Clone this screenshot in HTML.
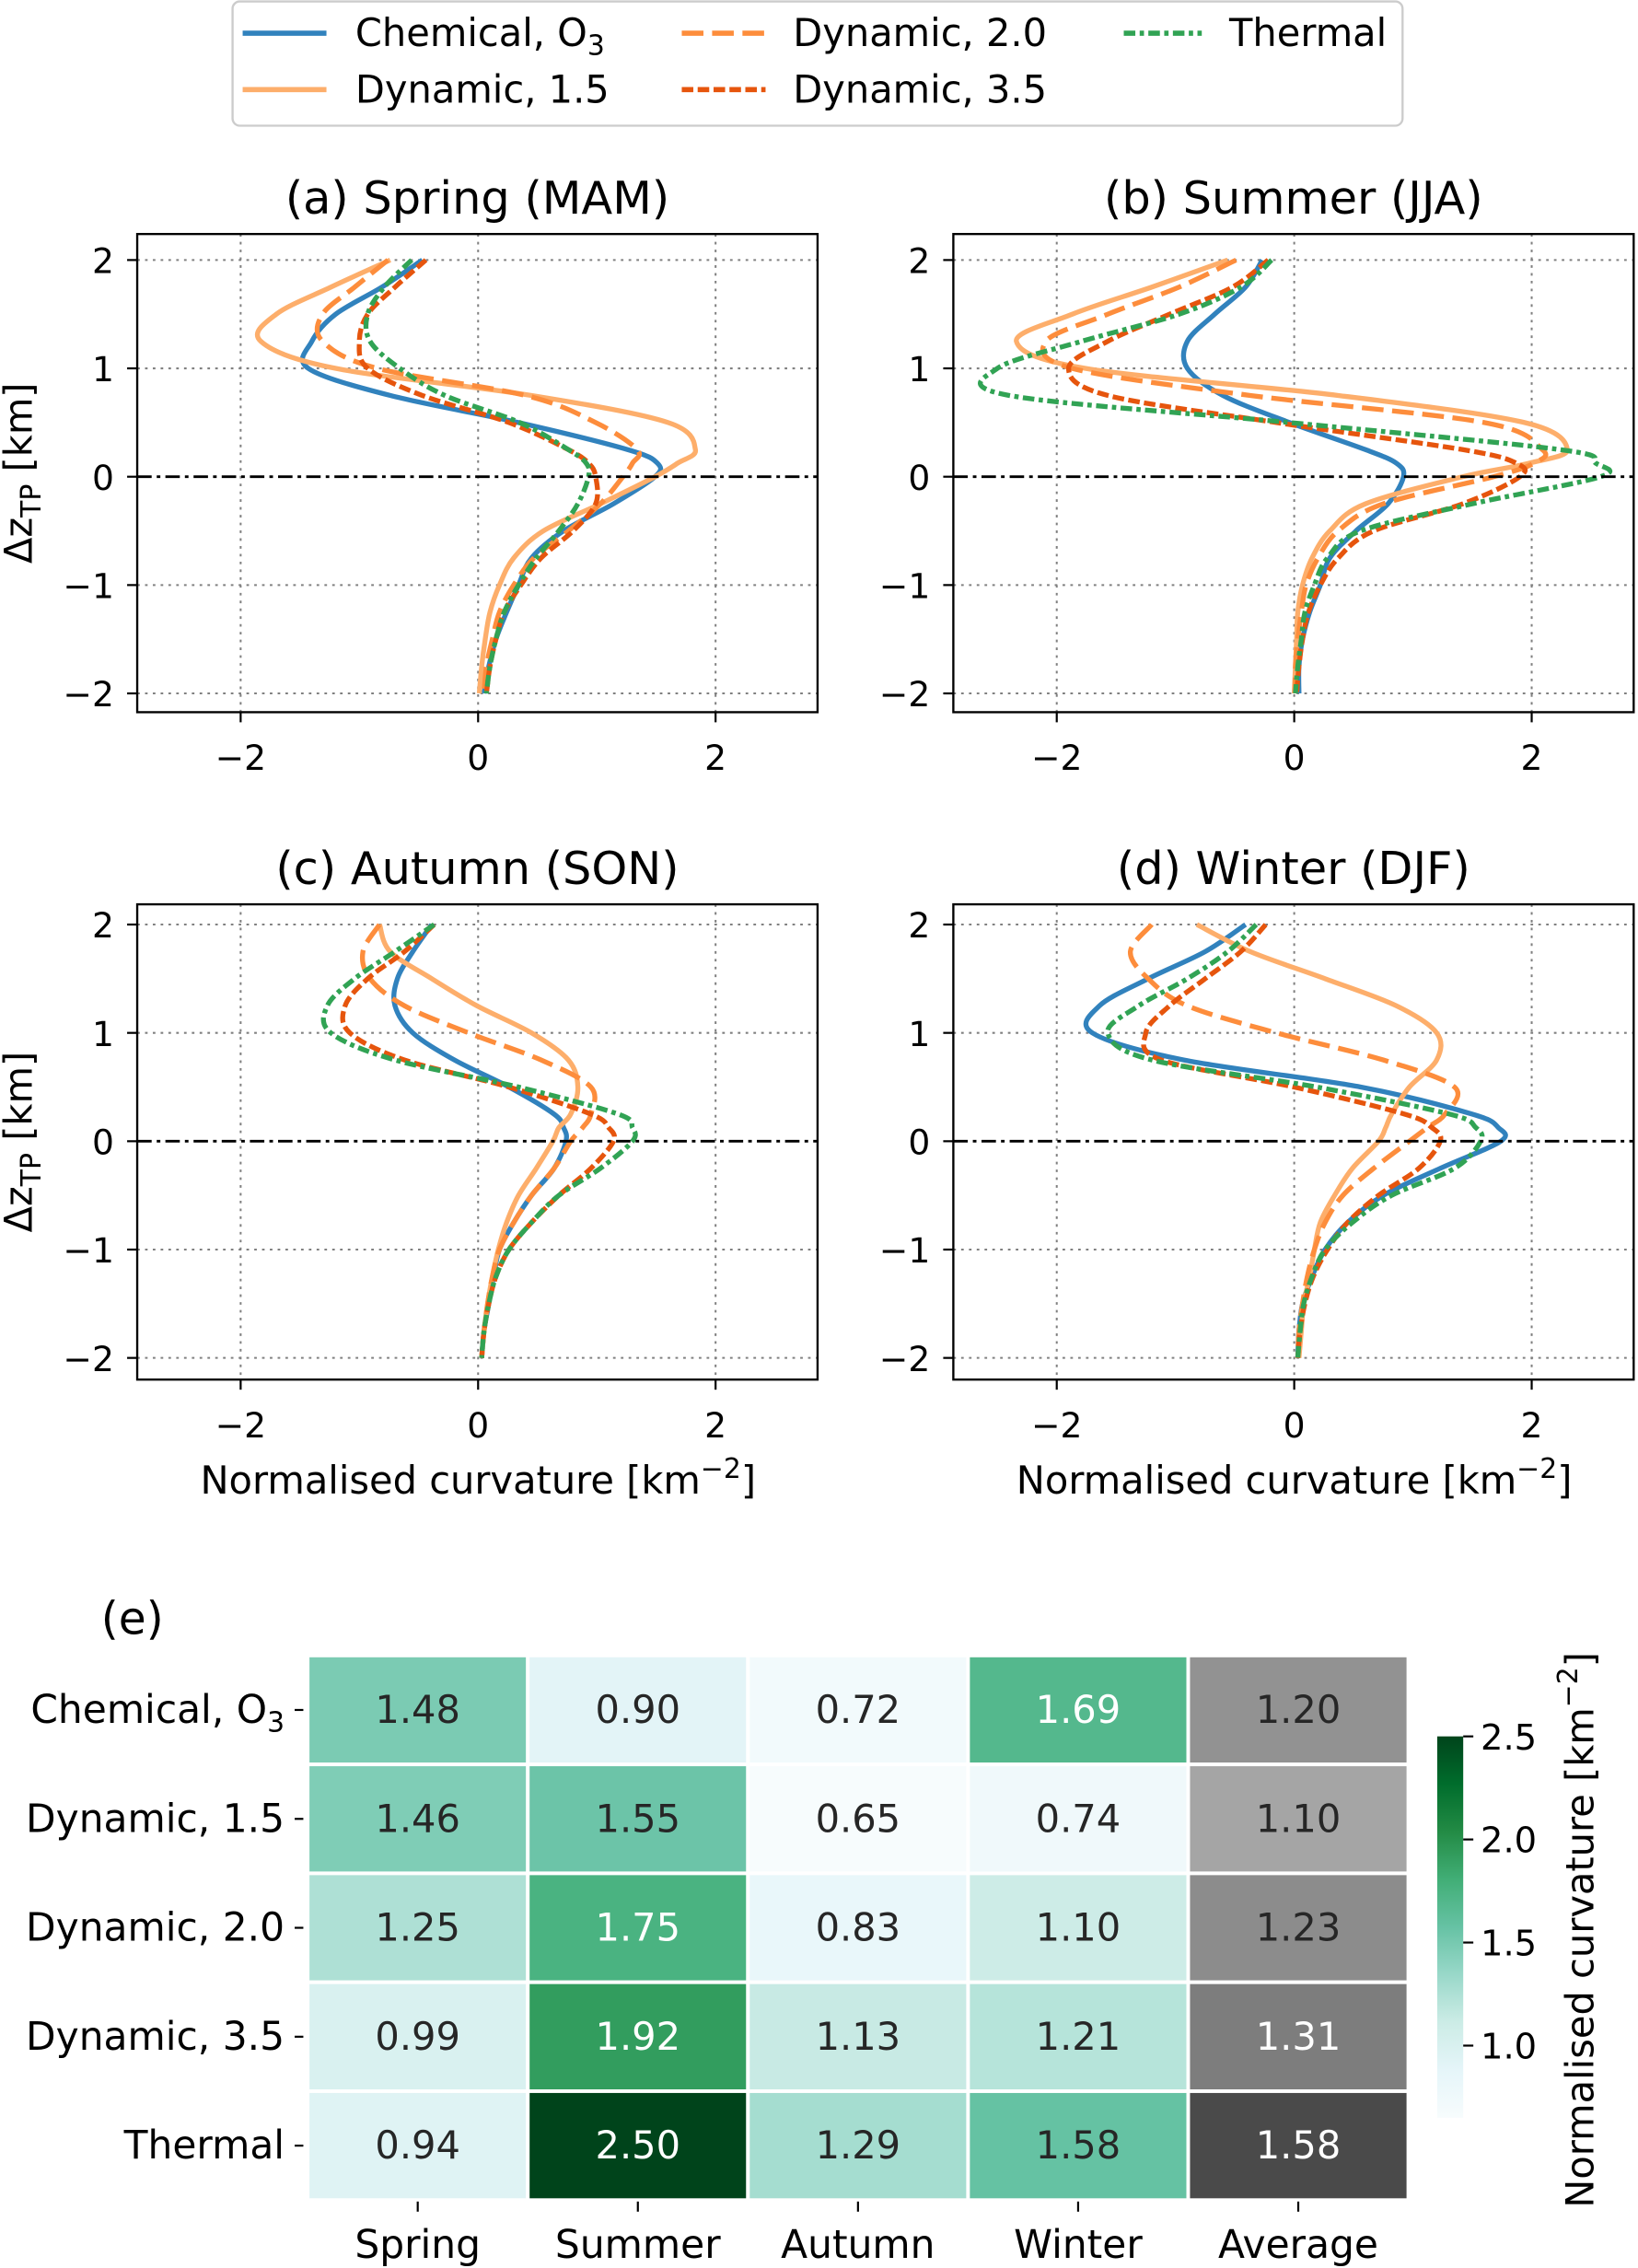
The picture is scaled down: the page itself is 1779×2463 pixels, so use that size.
<!DOCTYPE html>
<html><head><meta charset="utf-8">
<style>
html,body{margin:0;padding:0;background:#fff;}
svg{display:block;font-family:"DejaVu Sans","Liberation Sans",sans-serif;}
</style></head>
<body>
<svg id="fig" xmlns="http://www.w3.org/2000/svg" width="1779" height="2463" viewBox="0 0 1134 1570">
<g id="legend">
  <rect x="161" y="1" width="810" height="86" rx="5" fill="#fff" stroke="#cccccc" stroke-width="1.5"/>
  <g>
    <line x1="168" y1="23" x2="226" y2="23" stroke="#3182bd" stroke-width="3.6"/>
    <text x="246" y="32" font-size="26.5">Chemical, O<tspan font-size="19" dy="6">3</tspan></text>
  </g>
  <g>
    <line x1="168" y1="62" x2="226" y2="62" stroke="#fdae6b" stroke-width="3.6"/>
    <text x="246" y="71" font-size="26.5">Dynamic, 1.5</text>
  </g>
  <g>
    <line x1="472" y1="23" x2="530" y2="23" stroke="#fd8d3c" stroke-width="3.6" stroke-dasharray="15,6"/>
    <text x="549" y="32" font-size="26.5">Dynamic, 2.0</text>
  </g>
  <g>
    <line x1="472" y1="62" x2="530" y2="62" stroke="#e6550d" stroke-width="3.6" stroke-dasharray="8,3"/>
    <text x="549" y="71" font-size="26.5">Dynamic, 3.5</text>
  </g>
  <g>
    <line x1="778" y1="23" x2="832" y2="23" stroke="#31a354" stroke-width="3.6" stroke-dasharray="8,3,3,3"/>
    <text x="851" y="32" font-size="26.5">Thermal</text>
  </g>
</g>
<g id="panels"></g>
<g id="heatmap"></g>
</svg>
<script>
// ---------- profile data ----------
const yLevels = [2,1.75,1.5,1.25,1,0.75,0.5,0.25,0.125,0,-0.25,-0.5,-0.75,-1,-1.25,-1.5,-1.75,-2];
const seriesNames = ["Chemical, O3","Dynamic, 1.5","Dynamic, 2.0","Dynamic, 3.5","Thermal"];
const panelTitles = ["(a) Spring (MAM)","(b) Summer (JJA)","(c) Autumn (SON)","(d) Winter (DJF)"];
const xTicks = [-2,0,2];
const yTicks = [2,1,0,-1,-2];

const springChem = [-0.47,-0.81,-1.2,-1.40,-1.43,-0.74,0.34,1.26,1.51,1.49,1.14,0.72,0.45,0.34,0.24,0.15,0.09,0.05];
const springDyn15 = [-0.74,-1.24,-1.70,-1.83,-1.2,0.45,1.6,1.83,1.68,1.49,1.03,0.55,0.3,0.18,0.1,0.06,0.03,0.01];
const springDyn20 = [-0.76,-1.04,-1.31,-1.31,-0.85,0.4,0.99,1.34,1.30,1.22,1.03,0.76,0.47,0.3,0.18,0.12,0.07,0.05];
const springDyn35 = [-0.44,-0.7,-0.93,-1.0,-0.93,-0.47,0.26,0.76,0.93,0.99,0.99,0.8,0.53,0.36,0.22,0.15,0.1,0.07];
const springTherm = [-0.56,-0.79,-0.93,-0.91,-0.66,-0.28,0.35,0.76,0.91,0.93,0.84,0.68,0.49,0.34,0.22,0.15,0.1,0.07];

const summerChem = [-0.27,-0.41,-0.67,-0.9,-0.9,-0.6,-0.04,0.6,0.86,0.92,0.79,0.52,0.3,0.22,0.13,0.07,0.04,0.04];
const summerDyn15 = [-0.56,-1.2,-1.87,-2.34,-1.76,0.37,1.94,2.3,1.98,1.42,0.6,0.3,0.15,0.07,0.03,0.02,0.01,0];
const summerDyn20 = [-0.49,-0.97,-1.57,-2.09,-1.87,-0.37,1.6,2.09,2.02,1.68,0.75,0.37,0.2,0.1,0.06,0.03,0.01,0.01];
const summerDyn35 = [-0.22,-0.52,-1.05,-1.57,-1.9,-1.57,-0.15,1.42,1.87,1.9,1.42,0.67,0.37,0.22,0.12,0.07,0.04,0.02];
const summerTherm = [-0.19,-0.45,-0.97,-1.79,-2.5,-2.4,-0.04,2.24,2.54,2.58,1.5,0.56,0.28,0.17,0.09,0.06,0.03,0.01];

const autumnChem = [-0.39,-0.55,-0.68,-0.7,-0.55,-0.2,0.26,0.64,0.72,0.74,0.64,0.45,0.3,0.18,0.13,0.09,0.05,0.03];
const autumnDyn15 = [-0.83,-0.74,-0.39,-0.01,0.45,0.76,0.84,0.78,0.68,0.63,0.49,0.34,0.24,0.17,0.12,0.08,0.05,0.03];
const autumnDyn20 = [-0.83,-0.97,-0.91,-0.62,-0.08,0.53,0.95,0.95,0.88,0.78,0.64,0.45,0.3,0.18,0.12,0.08,0.05,0.03];
const autumnDyn35 = [-0.37,-0.62,-0.93,-1.12,-1.08,-0.62,0.26,0.95,1.1,1.14,0.95,0.68,0.45,0.26,0.15,0.09,0.05,0.03];
const autumnTherm = [-0.37,-0.7,-1.04,-1.27,-1.24,-0.7,0.34,1.18,1.3,1.3,1.03,0.68,0.45,0.26,0.15,0.09,0.05,0.03];

const winterChem = [-0.41,-0.75,-1.23,-1.64,-1.7,-0.93,0.56,1.5,1.72,1.74,1.23,0.75,0.45,0.26,0.15,0.07,0.04,0.03];
const winterDyn15 = [-0.82,-0.37,0.26,0.86,1.2,1.2,0.97,0.82,0.77,0.71,0.49,0.34,0.22,0.17,0.13,0.08,0.06,0.04];
const winterDyn20 = [-1.2,-1.38,-1.23,-0.9,-0.15,0.75,1.35,1.27,1.12,0.97,0.67,0.41,0.26,0.17,0.11,0.07,0.04,0.03];
const winterDyn35 = [-0.24,-0.45,-0.75,-1.05,-1.25,-1.12,0,0.93,1.16,1.23,1.05,0.71,0.45,0.28,0.16,0.09,0.05,0.03];
const winterTherm = [-0.32,-0.56,-0.9,-1.31,-1.57,-1.2,0.19,1.31,1.53,1.57,1.35,0.82,0.49,0.26,0.15,0.08,0.05,0.03];

// ---------- heatmap data ----------
const hmRows = ["Chemical, O3","Dynamic, 1.5","Dynamic, 2.0","Dynamic, 3.5","Thermal"];
const hmCols = ["Spring","Summer","Autumn","Winter","Average"];
const hmSpring = [1.48,1.46,1.25,0.99,0.94];
const hmSummer = [0.90,1.55,1.75,1.92,2.50];
const hmAutumn = [0.72,0.65,0.83,1.13,1.29];
const hmWinter = [1.69,0.74,1.10,1.21,1.58];
const hmAverage = [1.20,1.10,1.23,1.31,1.58];
const cbTicks = [1.0,1.5,2.0,2.5];

const NS = "http://www.w3.org/2000/svg";
function mk(tag, attrs, parent){const e=document.createElementNS(NS,tag);for(const k in attrs)e.setAttribute(k,attrs[k]);if(parent)parent.appendChild(e);return e;}

const styles = [
  {c:"#3182bd", d:""},
  {c:"#fdae6b", d:""},
  {c:"#fd8d3c", d:"15,6"},
  {c:"#e6550d", d:"8,3"},
  {c:"#31a354", d:"8,3,3,3"}
];
const panelData = [
  [springChem,springDyn15,springDyn20,springDyn35,springTherm],
  [summerChem,summerDyn15,summerDyn20,summerDyn35,summerTherm],
  [autumnChem,autumnDyn15,autumnDyn20,autumnDyn35,autumnTherm],
  [winterChem,winterDyn15,winterDyn20,winterDyn35,winterTherm]
];
const boxes = [
  {x0:95,x1:566,y0:162,y1:493,xz:331,yz:330},
  {x0:660,x1:1131,y0:162,y1:493,xz:896,yz:330},
  {x0:95,x1:566,y0:626,y1:955,xz:331,yz:790},
  {x0:660,x1:1131,y0:626,y1:955,xz:896,yz:790}
];
const XS = 82.2, YS = 75;

function catmull(pts){
  let d = "M"+pts[0][0].toFixed(2)+","+pts[0][1].toFixed(2);
  for(let i=0;i<pts.length-1;i++){
    const p0=pts[Math.max(0,i-1)],p1=pts[i],p2=pts[i+1],p3=pts[Math.min(pts.length-1,i+2)];
    const c1=[p1[0]+(p2[0]-p0[0])/6,p1[1]+(p2[1]-p0[1])/6];
    const c2=[p2[0]-(p3[0]-p1[0])/6,p2[1]-(p3[1]-p1[1])/6];
    d+=" C"+c1[0].toFixed(2)+","+c1[1].toFixed(2)+" "+c2[0].toFixed(2)+","+c2[1].toFixed(2)+" "+p2[0].toFixed(2)+","+p2[1].toFixed(2);
  }
  return d;
}

const panelsG = document.getElementById("panels");
boxes.forEach((b,pi)=>{
  const sx = v => b.xz + v*XS;
  const sy = v => b.yz - v*YS;
  const g = mk("g",{},panelsG);
  
  
  const clipId="clip"+pi;
  const cp = mk("clipPath",{id:clipId},g);
  mk("rect",{x:b.x0,y:b.y0,width:b.x1-b.x0,height:b.y1-b.y0},cp);
  xTicks.forEach(t=>{
    const l=mk("line",{x1:sx(t),x2:sx(t),y1:b.y0,y2:b.y1,stroke:"#808080","stroke-width":1.3,"stroke-dasharray":"1.8,3.6"},g);
    
    
    const tk=mk("line",{x1:sx(t),x2:sx(t),y1:b.y1,y2:b.y1+7,stroke:"#000","stroke-width":1.4},g);
    
    
    const tx=mk("text",{x:sx(t),y:b.y1+40,"font-size":24,"text-anchor":"middle"},g);
    tx.textContent=(t<0?"\u2212":"")+Math.abs(t);
    
    
  });
  yTicks.forEach(t=>{
    if(t!==0){
      const l=mk("line",{x1:b.x0,x2:b.x1,y1:sy(t),y2:sy(t),stroke:"#808080","stroke-width":1.3,"stroke-dasharray":"1.8,3.6"},g);
      
      
    }
    const tk=mk("line",{x1:b.x0-7,x2:b.x0,y1:sy(t),y2:sy(t),stroke:"#000","stroke-width":1.4},g);
    
    
    const tx=mk("text",{x:b.x0-16,y:sy(t)+9,"font-size":24,"text-anchor":"end"},g);
    tx.textContent=(t<0?"\u2212":"")+Math.abs(t);
    
    
  });
  const sg = mk("g",{"clip-path":"url(#"+clipId+")"},g);
  panelData[pi].forEach((arr,si)=>{
    const pts = arr.map((v,i)=>[sx(v), sy(yLevels[i])]);
    const p = mk("path",{d:catmull(pts),fill:"none",stroke:styles[si].c,"stroke-width":3.4,"stroke-linejoin":"round"},sg);
    if(styles[si].d) p.setAttribute("stroke-dasharray",styles[si].d);
    
    
  });
  const z=mk("line",{x1:b.x0,x2:b.x1,y1:sy(0),y2:sy(0),stroke:"#000","stroke-width":1.8,"stroke-dasharray":"10,3.5,2.5,3.5"},g);
  
  
  const fr=mk("rect",{x:b.x0,y:b.y0,width:b.x1-b.x0,height:b.y1-b.y0,fill:"none",stroke:"#000","stroke-width":1.5},g);
  
  
  const tt=mk("text",{x:(b.x0+b.x1)/2,y:b.y0-14,"font-size":31.5,"text-anchor":"middle"},g);
  tt.textContent=panelTitles[pi];
  
  
  if(pi%2===0){
    const yl=mk("text",{transform:"translate(22,"+((b.y0+b.y1)/2)+") rotate(-90)","font-size":26.5,"text-anchor":"middle"},g);
    yl.innerHTML='\u0394z<tspan font-size="19" dy="6">TP</tspan><tspan dy="-6"> [km]</tspan>';
    
    
  }
  if(pi>=2){
    const xl=mk("text",{x:b.xz,y:1034,"font-size":26.5,"text-anchor":"middle"},g);
    xl.innerHTML='Normalised curvature [km<tspan font-size="19" dy="-11">\u22122</tspan><tspan dy="11">]</tspan>';
    
    
  }
});

// ---------- heatmap ----------
const bugn = [[247,252,253],[229,245,249],[204,236,230],[153,216,201],[102,194,164],[65,174,118],[35,139,69],[0,109,44],[0,68,27]];
const VMIN=0.65, VMAX=2.5;
function bugnColor(v){
  let t=(v-VMIN)/(VMAX-VMIN); t=Math.max(0,Math.min(1,t));
  const f=t*8, i=Math.min(7,Math.floor(f)), r=f-i;
  const c=bugn[i].map((a,k)=>Math.round(a+(bugn[i+1][k]-a)*r));
  return "rgb("+c.join(",")+")";
}
function greyColor(v){
  const g=Math.round(Math.max(0,Math.min(255,165-(v-1.10)*190)));
  return "rgb("+g+","+g+","+g+")";
}
const hm = document.getElementById("heatmap");
const HX0=213, HY0=1146, CW=152.4, CH=75.4;
const hmCols_data=[hmSpring,hmSummer,hmAutumn,hmWinter,hmAverage];
const lab=mk("text",{x:70,y:1131,"font-size":31},hm);
lab.textContent="(e)";


hmCols_data.forEach((col,ci)=>{
  col.forEach((v,ri)=>{
    const x=HX0+ci*CW, y=HY0+ri*CH;
    const fill = ci===4 ? greyColor(v) : bugnColor(v);
    const r=mk("rect",{x:x,y:y,width:CW,height:CH,fill:fill,stroke:"#fff","stroke-width":2.5},hm);
    
    
    const dark = ci===4 ? v>1.28 : v>1.62;
    const t=mk("text",{x:x+CW/2,y:y+CH/2+9,"font-size":26.5,"text-anchor":"middle",fill:dark?"#fff":"#262626"},hm);
    t.textContent=v.toFixed(2);
    
    
  });
});
hmRows.forEach((n,ri)=>{
  const y=HY0+ri*CH+CH/2;
  const tk=mk("line",{x1:HX0-9,x2:HX0-3,y1:y,y2:y,stroke:"#000","stroke-width":1.4},hm);
  
  
  const t=mk("text",{x:HX0-16,y:y+9,"font-size":27,"text-anchor":"end"},hm);
  if(n==="Chemical, O3") t.innerHTML='Chemical, O<tspan font-size="19" dy="6">3</tspan>';
  else t.textContent=n;
  
  
});
hmCols.forEach((n,ci)=>{
  const x=HX0+ci*CW+CW/2;
  const tk=mk("line",{x1:x,x2:x,y1:HY0+5*CH+1,y2:HY0+5*CH+8,stroke:"#000","stroke-width":1.4},hm);
  
  
  const t=mk("text",{x:x,y:1563,"font-size":27,"text-anchor":"middle"},hm);
  t.textContent=n;
  
  
});
const CBX=995, CBW=18, CBT=1202, CBB=1466;
const cbY = v => CBB - (v-VMIN)/(VMAX-VMIN)*(CBB-CBT);
const defs=mk("defs",{},hm);
const lg=mk("linearGradient",{id:"cbgrad",x1:0,y1:1,x2:0,y2:0},defs);
bugn.forEach((c,i)=>mk("stop",{offset:(i/8),"stop-color":"rgb("+c.join(",")+")"},lg));
const cb=mk("rect",{x:CBX,y:CBT,width:CBW,height:CBB-CBT,fill:"url(#cbgrad)"},hm);


cbTicks.forEach(v=>{
  const tk=mk("line",{x1:CBX+CBW,x2:CBX+CBW+7,y1:cbY(v),y2:cbY(v),stroke:"#000","stroke-width":1.4},hm);
  
  
  const t=mk("text",{x:CBX+CBW+12,y:cbY(v)+9,"font-size":24.5},hm);
  t.textContent=v.toFixed(1);
  
  
});
const cbl=mk("text",{transform:"translate(1103,1336) rotate(-90)","font-size":26.5,"text-anchor":"middle"},hm);
cbl.innerHTML='Normalised curvature [km<tspan font-size="19" dy="-11">\u22122</tspan><tspan dy="11">]</tspan>';


</script>
</body></html>
